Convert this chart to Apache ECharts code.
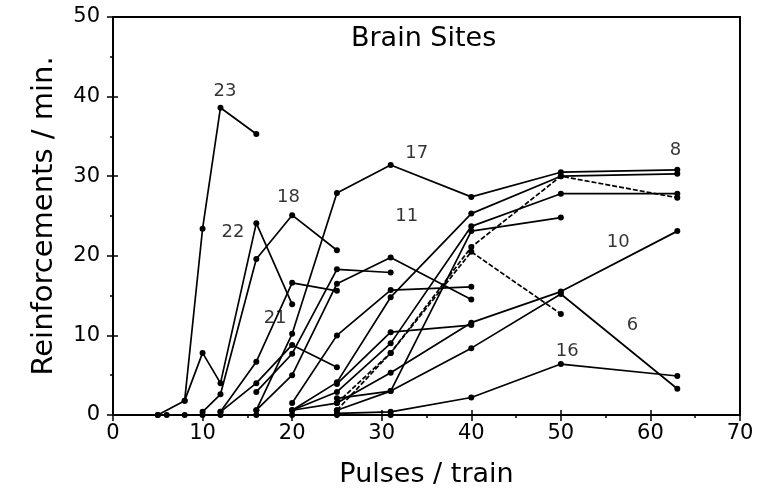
<!DOCTYPE html>
<html>
<head>
<meta charset="utf-8">
<script src="https://cdn.jsdelivr.net/npm/echarts@6/dist/echarts.min.js"></script>
<style>
  html, body { margin: 0; background: #fff; }
  #chart { width: 778px; height: 500px; }
</style>
</head>
<body>
<div id="chart"></div>
<script>
// pulses / train vs reinforcements / min, one array per brain site
const baseline = [[5, 0], [6, 0], [8, 0], [10, 0], [12, 0], [16, 0], [20, 0], [25, 0], [31, 0]];
const site23 = [[5, 0], [8, 1.8], [10, 23.4], [12, 38.6], [16, 35.3]];
const site22 = [[8, 1.8], [10, 7.8], [12, 4.0], [16, 24.1], [20, 13.9]];
const site18 = [[10, 0.4], [12, 2.6], [16, 19.6], [20, 25.1], [25, 20.7]];
const site21 = [[12, 0.4], [16, 6.7], [20, 16.6], [25, 15.6]];
const siteA = [[12, 0.4], [16, 4.0], [20, 8.8], [25, 6.0]];
const site17 = [[16, 0.6], [20, 10.2], [25, 27.9], [31, 31.4], [40, 27.4], [50, 30.5], [63, 30.8]];
const siteB = [[16, 2.9], [20, 7.7], [25, 18.3], [31, 17.9]];
const site11 = [[16, 0.6], [20, 5.0], [25, 16.5], [31, 19.8], [40, 14.5]];
const siteC = [[20, 1.5], [25, 10.0], [31, 15.7], [40, 16.1]];
const site8 = [[20, 0.6], [25, 4.1], [31, 14.8], [40, 25.3], [50, 30.0], [63, 30.3]];
const siteD = [[20, 0.6], [25, 2.9], [31, 9.0], [40, 23.7], [50, 27.8], [63, 27.8]];
const siteE = [[25, 0.6], [31, 7.8], [40, 21.1], [50, 30.0], [63, 27.3]];
const siteF = [[25, 2.1], [31, 3.0], [40, 23.1], [50, 24.8]];
const siteG = [[25, 3.9], [31, 10.4], [40, 11.3]];
const siteH = [[25, 1.5], [31, 7.8], [40, 20.5], [50, 12.7]];
const site10 = [[20, 0.6], [25, 1.5], [31, 5.3], [40, 11.6], [50, 15.5], [63, 23.1]];
const site6 = [[25, 0.6], [31, 3.0], [40, 8.4], [50, 15.2], [63, 3.3]];
const site16 = [[25, 0.2], [31, 0.4], [40, 2.2], [50, 6.4], [63, 4.9]];

const siteLabels = ['23', '22', '18', '21', '17', '11', '8', '10', '6', '16'];
const labelPos = [[12.5, 40.6], [13.4, 23.0], [19.6, 27.4], [18.1, 12.2], [33.9, 32.9],
                  [32.8, 24.9], [62.8, 33.3], [56.4, 21.7], [58.0, 11.3], [50.7, 8.0]];

const allSites = [baseline, site23, site22, site18, site21, siteA, site17, siteB, site11, siteC,
                  site8, siteD, siteE, siteF, siteG, siteH, site10, site6, site16];
const dashedSites = [siteE, siteH];

const font = '"DejaVu Sans", sans-serif';

let chart = echarts.init(document.getElementById('chart'));

let series = allSites.map(d => ({
    type: 'line',
    data: d,
    symbol: 'circle',
    symbolSize: 6,
    itemStyle: { color: '#000' },
    lineStyle: { color: '#000', width: 1.7, type: dashedSites.includes(d) ? [5, 2] : 'solid' },
    animation: false,
    z: 3
}));
series.push({
    type: 'scatter',
    data: labelPos.map((p, i) => ({ value: p, name: siteLabels[i] })),
    symbolSize: 0,
    label: {
        show: true,
        position: 'inside',
        formatter: p => p.name,
        color: '#000',
        fontFamily: font,
        fontSize: 18
    },
    animation: false,
    z: 5
});

let axisCommon = {
    axisLine: { show: true, lineStyle: { color: '#000', width: 2 } },
    splitLine: { show: false },
    minorTick: { show: true, splitNumber: 2, length: 3, lineStyle: { color: '#000', width: 1.5 } },
    axisTick: { show: true, length: 6, lineStyle: { color: '#000', width: 1.5 } }
};

let options = {
    backgroundColor: '#fff',
    title: {
        text: 'Brain Sites',
        left: 346,
        top: 20,
        textStyle: { fontFamily: font, fontSize: 27, fontWeight: 'normal', color: '#000' }
    },
    grid: {
        left: 113, right: 38, top: 17, bottom: 85,
        show: true, borderColor: '#000', borderWidth: 2
    },
    xAxis: [
        Object.assign({}, axisCommon, {
            type: 'value', min: 0, max: 70, interval: 10,
            name: 'Pulses / train', nameLocation: 'middle', nameGap: 46,
            nameTextStyle: { fontFamily: font, fontSize: 27, color: '#000' },
            axisLabel: { margin: 8, fontFamily: font, fontSize: 21, color: '#000' }
        }),
        Object.assign({}, axisCommon, {
            type: 'value', min: 0, max: 70, interval: 10, position: 'bottom',
            axisTick: { show: true, inside: true, length: 5, lineStyle: { color: '#000', width: 1.5 } },
            minorTick: { show: false },
            axisLabel: { show: false }
        })
    ],
    yAxis: [
        Object.assign({}, axisCommon, {
            type: 'value', min: 0, max: 50, interval: 10,
            name: 'Reinforcements / min.', nameLocation: 'middle', nameGap: 54,
            nameTextStyle: { fontFamily: font, fontSize: 29, color: '#000' },
            axisLabel: { margin: 13, fontFamily: font, fontSize: 21, color: '#000' }
        }),
        Object.assign({}, axisCommon, {
            type: 'value', min: 0, max: 50, interval: 10, position: 'left',
            axisTick: { show: true, inside: true, length: 5, lineStyle: { color: '#000', width: 1.5 } },
            minorTick: { show: false },
            axisLabel: { show: false }
        })
    ],
    series: series
};
chart.setOption(options);
</script>
</body>
</html>
